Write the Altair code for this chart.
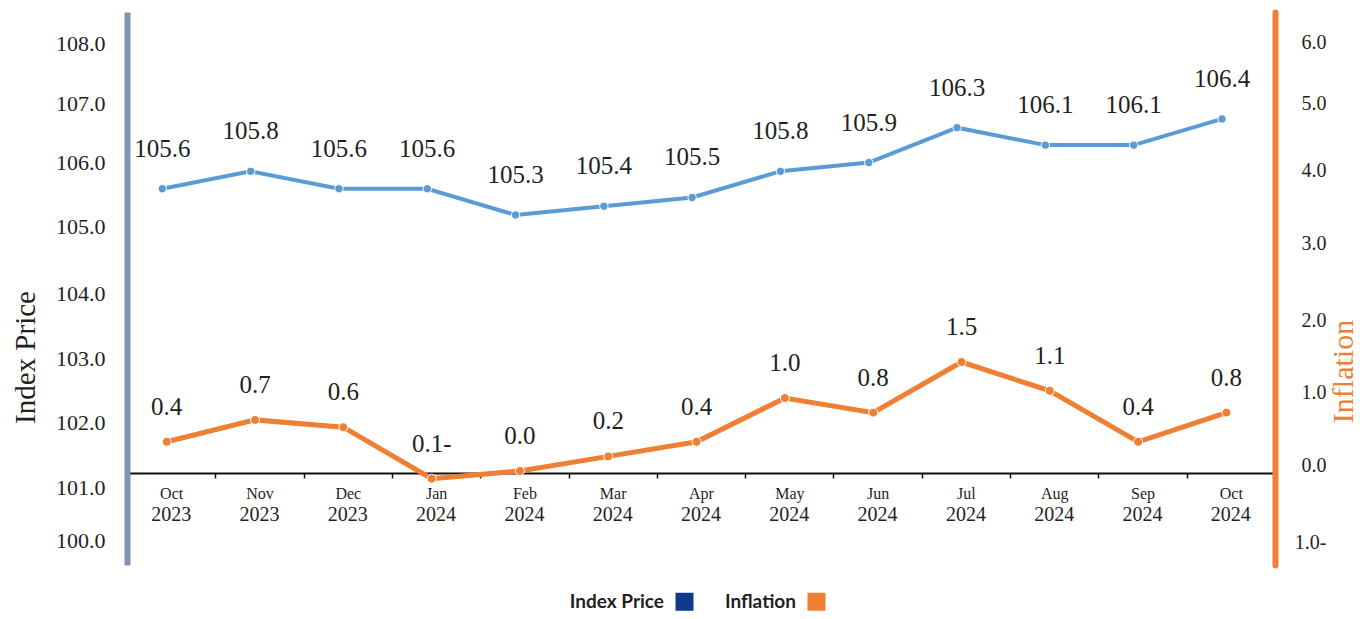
import altair as alt
import pandas as pd

months = ["Oct 2023", "Nov 2023", "Dec 2023", "Jan 2024", "Feb 2024", "Mar 2024",
          "Apr 2024", "May 2024", "Jun 2024", "Jul 2024", "Aug 2024", "Sep 2024", "Oct 2024"]
index_price = [105.6, 105.8, 105.6, 105.6, 105.3, 105.4, 105.5, 105.8, 105.9, 106.3, 106.1, 106.1, 106.4]
inflation = [0.4, 0.7, 0.6, -0.1, 0.0, 0.2, 0.4, 1.0, 0.8, 1.5, 1.1, 0.4, 0.8]
left_ticks = [100, 101, 102, 103, 104, 105, 106, 107, 108]
right_ticks = [-1, 0, 1, 2, 3, 4, 5, 6]
series = ["Index Price", "Inflation"]
legend_colors = ["#0f3a8a", "#ef7f32"]

# uneven tick spacing of the original axes (pixel offsets from the plot top),
# padded with the plot's own top/bottom edges so the axis bars span the full height
left_domain = [99.53] + left_ticks + [108.52]
left_range = [553, 528, 475, 410, 346, 281, 214, 150, 91, 31, 0]
right_domain = [-1.14] + right_ticks + [6.69]
right_range = [553, 536, 459, 386, 314, 237, 164, 97, 36, 0]

BLUE = "#5b9bd5"
ORANGE = "#ef7f32"
SERIF = "Liberation Serif"
TXT = "#231f20"

df = pd.DataFrame({"month": months, "index": index_price, "infl": inflation})
leg = pd.DataFrame({"series": series})

xscale = alt.Scale(type="band", paddingInner=0, paddingOuter=0, domain=months)

base = alt.Chart(df)

# dummy layer carrying the left axis and the month-label x axis
left_axis = base.mark_point(opacity=0).encode(
    x=alt.X("month:N", scale=xscale, bandPosition=0.5,
            axis=alt.Axis(orient="bottom", offset=-92, title=None, labelAngle=0,
                          labelExpr="datum.value ? split(datum.value, ' ')[0] : ''",
                          labelFont=SERIF, labelFontSize=16, labelColor=TXT, labelPadding=7,
                          domainColor="#111111", domainWidth=2, tickColor="#111111",
                          tickWidth=1.5, tickSize=5, tickBand="extent", grid=False)),
    y=alt.Y("index:Q", scale=alt.Scale(domain=left_domain, range=left_range,
                                       nice=False, zero=False),
            axis=alt.Axis(orient="left", values=left_ticks, format=".1f", title="Index Price",
                          ticks=False, grid=False, domainColor="#8094b4", domainWidth=6,
                          labelFont=SERIF, labelFontSize=22, labelColor=TXT, labelPadding=22,
                          titleFont=SERIF, titleFontSize=29, titleFontWeight="normal",
                          titleColor=TXT, titleAngle=270, titleAlign="center",
                          titleBaseline="middle", titleX=-102, titleY=345)),
)

blue_scale = alt.Scale(domain=[101.29, 107.625], nice=False, zero=False)
blue_line = base.mark_line(color=BLUE, strokeWidth=4,
                           point=alt.OverlayMarkDef(filled=True, color=BLUE, size=70,
                                                    stroke="white", strokeWidth=1)).encode(
    x=alt.X("month:N", scale=xscale, bandPosition=0.4,
            axis=alt.Axis(orient="bottom", offset=-92, title=None, labelAngle=0,
                          labelExpr="datum.value ? split(datum.value, ' ')[1] : ''",
                          labelFont=SERIF, labelFontSize=20, labelColor=TXT, labelPadding=31,
                          domain=False, ticks=False, tickSize=0, grid=False)),
    y=alt.Y("index:Q", scale=blue_scale, axis=None),
)
blue_text = base.transform_calculate(lab="format(datum.index, '.1f')").mark_text(
    font=SERIF, fontSize=25, color=TXT, dy=-40, baseline="middle").encode(
    x=alt.X("month:N", scale=xscale, bandPosition=0.4, axis=None),
    y=alt.Y("index:Q", scale=blue_scale, axis=None),
    text="lab:N",
)

or_scale = alt.Scale(domain=right_domain, range=right_range, nice=False, zero=False)
orange_line = base.mark_line(color=ORANGE, strokeWidth=5,
                             point=alt.OverlayMarkDef(filled=True, color=ORANGE, size=80,
                                                      stroke="white", strokeWidth=1)).encode(
    x=alt.X("month:N", scale=xscale, bandPosition=0.45, axis=None),
    y=alt.Y("infl:Q", scale=or_scale,
            axis=alt.Axis(orient="right", values=right_ticks, title="Inflation",
                          labelExpr="datum.value < 0 ? format(-datum.value, '.1f') + '-' : format(datum.value, '.1f')",
                          ticks=False, grid=False, domainColor=ORANGE, domainWidth=6,
                          domainCap="round", labelFont=SERIF, labelFontSize=20,
                          labelColor=TXT, labelPadding=51, labelAlign="right",
                          labelOffset=-6,
                          titleFont=SERIF, titleFontSize=30, titleFontWeight="normal",
                          titleColor=ORANGE, titleAngle=270, titleAlign="center",
                          titleBaseline="middle", titleX=68, titleY=359)),
)
orange_text = base.transform_calculate(
    lab="datum.infl < 0 ? format(-datum.infl, '.1f') + '-' : format(datum.infl, '.1f')"
).mark_text(font=SERIF, fontSize=25, color=TXT, dy=-35, baseline="middle").encode(
    x=alt.X("month:N", scale=xscale, bandPosition=0.45, axis=None),
    y=alt.Y("infl:Q", scale=or_scale, axis=None),
    text="lab:N",
)

legend_layer = alt.Chart(leg).mark_square(opacity=0).encode(
    fill=alt.Fill("series:N", scale=alt.Scale(domain=series, range=legend_colors),
                  legend=alt.Legend(title=None, orient="none", legendX=548, legendY=580,
                                    direction="horizontal", symbolType="square",
                                    symbolSize=324, symbolOpacity=1, symbolStrokeWidth=0,
                                    labelFont="Lato", labelFontWeight="bold",
                                    labelFontSize=19, labelColor=TXT, labelAlign="right",
                                    labelOffset={"expr": "-30"}, columnPadding=30)),
)

chart = alt.layer(left_axis, blue_line, blue_text, orange_line, orange_text, legend_layer).resolve_scale(
    y="independent"
).resolve_axis(x="independent", y="independent").properties(
    width=1148, height=553,
    autosize=alt.AutoSizeParams(type="none"),
    padding={"left": 119, "top": 4, "right": 86, "bottom": 46},
).configure(background="white").configure_view(strokeWidth=0)

chart.save("out.html", embed_options={"renderer": "svg", "actions": False})
